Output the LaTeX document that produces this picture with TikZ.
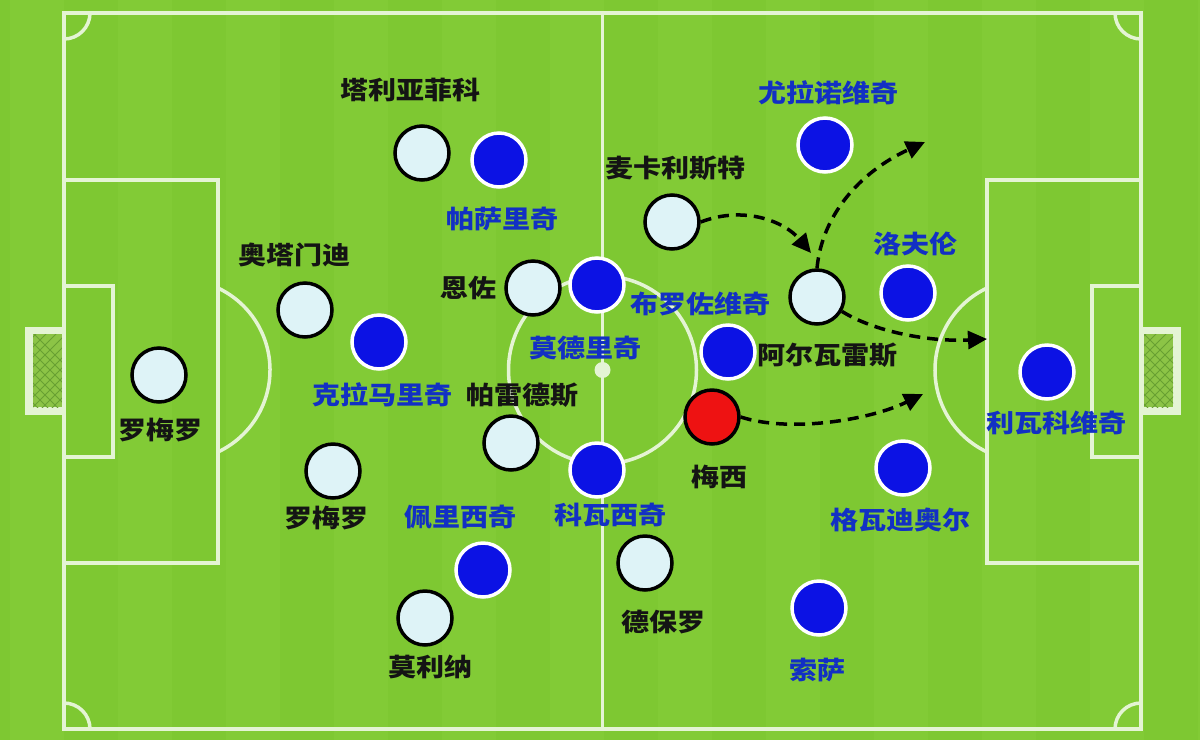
\documentclass[tikz,border=0pt]{standalone}
\usepackage{fontspec}
\newfontfamily\cjk{Noto Sans CJK SC}[FakeStretch=1.12]
\usetikzlibrary{arrows.meta}
\definecolor{grassA}{RGB}{126,200,50}
\definecolor{grassB}{RGB}{130,203,54}
\definecolor{pline}{RGB}{228,244,212}
\definecolor{wfill}{RGB}{222,243,247}
\definecolor{bfill}{RGB}{12,18,228}
\definecolor{rfill}{RGB}{238,18,18}
\definecolor{btext}{RGB}{18,48,196}
\definecolor{ktext}{RGB}{20,20,20}
\definecolor{netfill}{RGB}{140,196,70}
\definecolor{netline}{RGB}{104,160,50}
\tikzset{
  pitch/.style={draw=pline, line width=3.5pt},
  wplayer/.style={circle, minimum size=54pt, inner sep=0pt, fill=wfill, draw=black, line width=3.5pt},
  bplayer/.style={circle, minimum size=54pt, inner sep=0pt, fill=bfill, draw=white, line width=3.5pt},
  rplayer/.style={circle, minimum size=54pt, inner sep=0pt, fill=rfill, draw=black, line width=3.5pt},
  klab/.style={font=\cjk\bfseries\fontsize{25pt}{28pt}\selectfont, text=ktext, inner sep=0pt},
  blab/.style={font=\cjk\bfseries\fontsize{25pt}{28pt}\selectfont, text=btext, inner sep=0pt},
  run/.style={draw=black, line width=3.5pt, dash pattern=on 11pt off 7pt, -{Triangle[length=19pt,width=18pt]}}
}
\begin{document}
\begin{tikzpicture}[x=1pt,y=-1pt]
\useasboundingbox (0,0) rectangle (1200,740);
% grass
\fill[grassA] (0,0) rectangle (1200,740);
\foreach \i in {0,2,...,22} {
  \fill[grassB] (\i*54+10,0) rectangle (\i*54+64,740);
}
% goals
\fill[pline] (25,327) rectangle (64,415);
\fill[netfill] (33,334) rectangle (62,407);
\begin{scope}
\clip (33,334) rectangle (62,407);
\foreach \k in {0,1,...,12} {
  \draw[netline, line width=0.8pt] (20,320+\k*10) -- (80,380+\k*10);
  \draw[netline, line width=0.8pt] (20,440-\k*10) -- (80,380-\k*10);
}
\end{scope}
\fill[pline] (1141,327) rectangle (1181,415);
\fill[netfill] (1144,334) rectangle (1173,407);
\begin{scope}
\clip (1144,334) rectangle (1173,407);
\foreach \k in {0,1,...,12} {
  \draw[netline, line width=0.8pt] (1130,320+\k*10) -- (1190,380+\k*10);
  \draw[netline, line width=0.8pt] (1130,440-\k*10) -- (1190,380-\k*10);
}
\end{scope}
% pitch lines
\draw[pitch] (64,13) rectangle (1141,729);
\draw[pitch] (602.5,13) -- (602.5,729);
\draw[pitch] (602.5,370) circle[radius=94];
\fill[pline] (602.5,370) circle[radius=8];
\draw[pitch] (64,180) rectangle (218,563);
\draw[pitch] (987,180) rectangle (1141,563);
\draw[pitch] (64,286) rectangle (113,457);
\draw[pitch] (1092,286) rectangle (1141,457);
\draw[pitch] (179.4,370) ++(-64.8:90.6) arc[start angle=-64.8, end angle=64.8, radius=90.6];
\draw[pitch] (1025.6,370) ++(115.2:90.6) arc[start angle=115.2, end angle=244.8, radius=90.6];
\draw[pitch] (64,39) arc[start angle=90, end angle=0, radius=26];
\draw[pitch] (1115,13) arc[start angle=180, end angle=90, radius=26];
\draw[pitch] (90,729) arc[start angle=0, end angle=-90, radius=26];
\draw[pitch] (1141,703) arc[start angle=270, end angle=180, radius=26];
% white team
\node[wplayer] (tal) at (422,153) {};
\node[wplayer] (ota) at (305,310) {};
\node[wplayer] (gk)  at (159,375) {};
\node[wplayer] (enz) at (533,288) {};
\node[wplayer] (par) at (511,443) {};
\node[wplayer] (rom) at (333,471) {};
\node[wplayer] (mol) at (425,618) {};
\node[wplayer] (mca) at (672,222) {};
\node[wplayer] (alv) at (817,297) {};
\node[wplayer] (dep) at (645,563) {};
\node[rplayer] (mes) at (712,417) {};
% blue team
\node[bplayer] (pas) at (499,160) {};
\node[bplayer] (kra) at (379,342) {};
\node[bplayer] (mod) at (597,285) {};
\node[bplayer] (bro) at (728,352) {};
\node[bplayer] (kov) at (597,470) {};
\node[bplayer] (per) at (483,570) {};
\node[bplayer] (jur) at (825,145) {};
\node[bplayer] (lov) at (908,293) {};
\node[bplayer] (liv) at (1047,372) {};
\node[bplayer] (gva) at (903,468) {};
\node[bplayer] (sos) at (819,608) {};
% black labels
\node[klab] (ltal) at (410,90) {塔利亚菲科};
\node[klab] (lota) at (294,255) {奥塔门迪};
\node[klab] (lgk)  at (160,430) {罗梅罗};
\node[klab] (lenz) at (468,288) {恩佐};
\node[klab] (lpar) at (522,395) {帕雷德斯};
\node[klab] (lrom) at (326,518) {罗梅罗};
\node[klab] (lmol) at (430,667) {莫利纳};
\node[klab] (lmca) at (675,168) {麦卡利斯特};
\node[klab] (lalv) at (827,355) {阿尔瓦雷斯};
\node[klab] (lmes) at (719,477) {梅西};
\node[klab] (ldep) at (663,622) {德保罗};
% blue labels
\node[blab] (lpas) at (502,219) {帕萨里奇};
\node[blab] (lkra) at (382,395) {克拉马里奇};
\node[blab] (lmod) at (585,348) {莫德里奇};
\node[blab] (lbro) at (700,304) {布罗佐维奇};
\node[blab] (lper) at (460,517) {佩里西奇};
\node[blab] (lkov) at (610,515) {科瓦西奇};
\node[blab] (ljur) at (828,93) {尤拉诺维奇};
\node[blab] (llov) at (915,244) {洛夫伦};
\node[blab] (lliv) at (1056,423) {利瓦科维奇};
\node[blab] (lgva) at (900,520) {格瓦迪奥尔};
\node[blab] (lsos) at (817,670) {索萨};
% runs
\coordinate (t1) at (811,253);
\coordinate (t2) at (925,142);
\coordinate (t3) at (987,339);
\coordinate (t4) at (923,394);
\draw[run] (mca.east) .. controls (745,205) and (785,222) .. (t1);
\draw[run] (alv.north) .. controls (822,215) and (860,172) .. (t2);
\draw[run] (alv.-30) .. controls (875,332) and (930,342) .. (t3);
\draw[run] (mes.east) .. controls (790,433) and (870,420) .. (t4);
\end{tikzpicture}
\end{document}
